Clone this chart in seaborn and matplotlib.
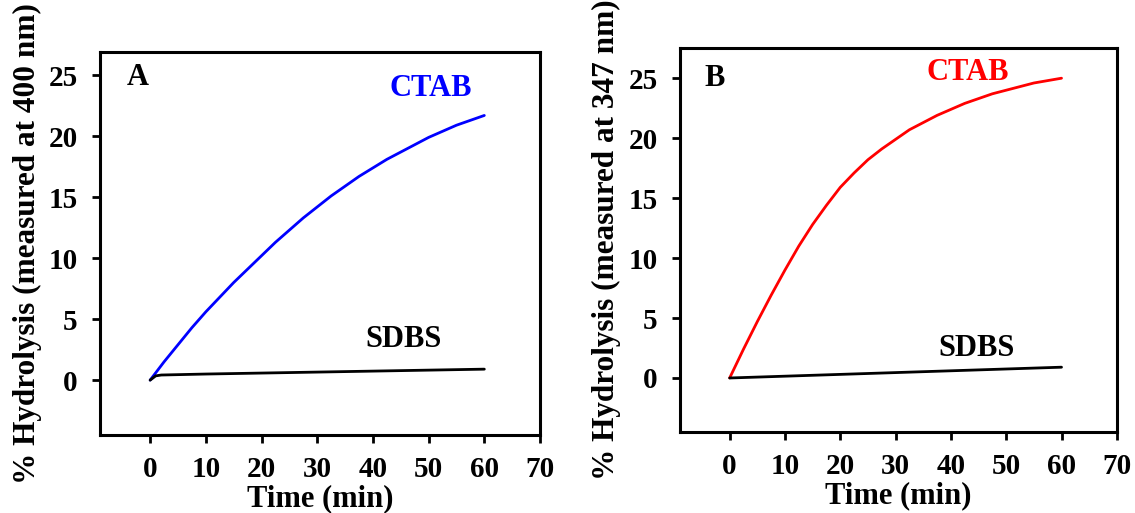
import numpy as np
import pandas as pd
import matplotlib
matplotlib.use("Agg")
import matplotlib.pyplot as plt
import seaborn as sns

# ---- data ----
time_ctab = [0, 2.5, 5, 7.5, 10, 12.5, 15, 17.5, 20, 22.5, 25, 27.5, 30,
             32.5, 35, 37.5, 40, 42.5, 45, 47.5, 50, 52.5, 55, 57.5, 60]
a_ctab = [0, 1.5, 2.9, 4.3, 5.6, 6.8, 8.0, 9.1, 10.2, 11.3, 12.3, 13.3, 14.2,
          15.1, 15.9, 16.7, 17.4, 18.1, 18.7, 19.3, 19.9, 20.4, 20.9, 21.3, 21.7]
b_ctab = [0, 2.4, 4.7, 6.9, 9.0, 11.0, 12.8, 14.4, 15.9, 17.1, 18.2, 19.1, 19.9,
          20.7, 21.3, 21.9, 22.4, 22.9, 23.3, 23.7, 24.0, 24.3, 24.6, 24.8, 25.0]

time_a_sdbs = [0, 1, 2, 10, 20, 30, 40, 50, 60]
a_sdbs = [0, 0.35, 0.42, 0.5, 0.58, 0.66, 0.74, 0.82, 0.9]
time_b_sdbs = [0, 10, 20, 30, 40, 50, 60]
b_sdbs = [0, 0.15, 0.3, 0.45, 0.6, 0.75, 0.9]

x_ticks = [0, 10, 20, 30, 40, 50, 60, 70]
y_ticks = [0, 5, 10, 15, 20, 25]

sns.set_theme(style="ticks")
plt.rcParams['font.family'] = ['Liberation Serif', 'DejaVu Serif']
plt.rcParams['font.weight'] = 'bold'
plt.rcParams['text.color'] = 'black'
plt.rcParams['axes.labelcolor'] = 'black'
plt.rcParams['xtick.color'] = 'black'
plt.rcParams['ytick.color'] = 'black'

fig = plt.figure(figsize=(11.35, 5.13), dpi=100)
axA = fig.add_axes([0.0881, 0.152, 0.3877, 0.7466])
axB = fig.add_axes([0.599, 0.158, 0.385, 0.748])

dfA1 = pd.DataFrame({"t": time_ctab, "y": a_ctab})
dfA2 = pd.DataFrame({"t": time_a_sdbs, "y": a_sdbs})
dfB1 = pd.DataFrame({"t": time_ctab, "y": b_ctab})
dfB2 = pd.DataFrame({"t": time_b_sdbs, "y": b_sdbs})

sns.lineplot(data=dfA1, x="t", y="y", ax=axA, color="#0000ff", lw=2.0)
sns.lineplot(data=dfA2, x="t", y="y", ax=axA, color="black", lw=2.0)
sns.lineplot(data=dfB1, x="t", y="y", ax=axB, color="#ff0000", lw=2.0)
sns.lineplot(data=dfB2, x="t", y="y", ax=axB, color="black", lw=2.0)

fs_tick = 21
fs_xlab = 22
fs_ylab = 22.5
fs_txt = 22

for ax, ylim, wl in [(axA, (-4.5, 26.9), "400"), (axB, (-4.5, 27.5), "347")]:
    ax.set_xlim(-9, 70)
    ax.set_ylim(*ylim)
    ax.set_xticks(x_ticks)
    ax.set_yticks(y_ticks)
    ax.tick_params(axis='both', direction='out', length=6, width=2, labelsize=fs_tick, colors='black')
    ax.tick_params(axis='x', pad=9)
    ax.tick_params(axis='y', pad=10)
    for lab in ax.get_xticklabels() + ax.get_yticklabels():
        lab.set_fontweight('bold')
    for s in ax.spines.values():
        s.set_linewidth(2.2)
        s.set_color('black')
        s.set_visible(True)
    ax.set_xlabel("Time (min)", fontsize=fs_xlab, fontweight='bold', labelpad=1)
    ax.set_ylabel(f"% Hydrolysis (measured at {wl} nm)", fontsize=fs_ylab, fontweight='bold', labelpad=5)

axA.text(-2.2, 24.8, "A", fontsize=fs_txt, fontweight='bold', ha='center', va='center')
axA.text(50.4, 23.9, "CTAB", fontsize=fs_txt, fontweight='bold', color='#0000ff', ha='center', va='center')
axA.text(45.5, 3.3, "SDBS", fontsize=fs_txt, fontweight='bold', color='black', ha='center', va='center')

axB.text(-2.7, 25.0, "B", fontsize=fs_txt, fontweight='bold', ha='center', va='center')
axB.text(43.0, 25.5, "CTAB", fontsize=fs_txt, fontweight='bold', color='#ff0000', ha='center', va='center')
axB.text(44.6, 2.5, "SDBS", fontsize=fs_txt, fontweight='bold', color='black', ha='center', va='center')

fig.savefig("out.png", dpi=100)
